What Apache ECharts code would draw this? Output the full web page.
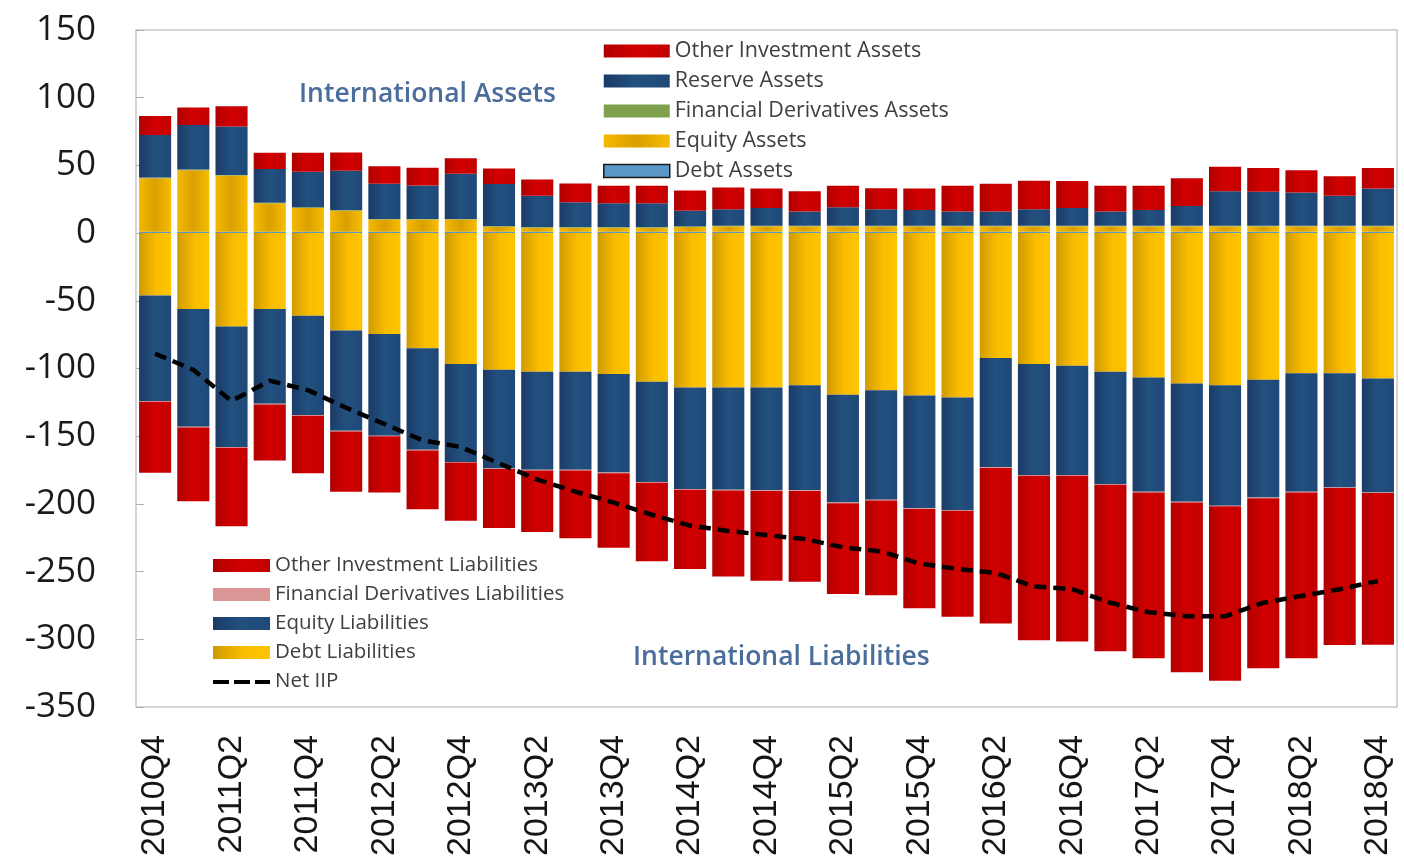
<!DOCTYPE html>
<html>
<head>
<meta charset="utf-8">
<script src="https://cdn.jsdelivr.net/npm/echarts@6/dist/echarts.min.js"></script>
<style>
html,body{margin:0;padding:0;background:#fff;}
#chart{width:1404px;height:867px;}
</style>
</head>
<body>
<div id="chart"></div>
<script>
const categories = ['2010Q4','2011Q1','2011Q2','2011Q3','2011Q4','2012Q1','2012Q2','2012Q3','2012Q4',
  '2013Q1','2013Q2','2013Q3','2013Q4','2014Q1','2014Q2','2014Q3','2014Q4','2015Q1','2015Q2','2015Q3','2015Q4',
  '2016Q1','2016Q2','2016Q3','2016Q4','2017Q1','2017Q2','2017Q3','2017Q4','2018Q1','2018Q2','2018Q3','2018Q4'];

const debtAssets = [1,1,1,1,1,1,1,1,1,1,1,1,1,1,1,1,1,1,1,1,1,1,1,1,1,1,1,1,1,1,1,1,1];
const equityAssets = [39.5,45.5,41.5,21,17.5,15.5,9,9,9,3.7,3,3,3,3,3.5,4,4,4,4,4,4,4,4,4,4,4,4,4,4,4,4,4,4];
const finDerivAssets = [0.5,0.5,0.5,0.5,0.5,0.5,0.5,0.5,0.5,0.5,0.5,0.5,0.5,0.5,0.5,0.5,0.5,0.5,0.5,0.5,0.5,0.5,0.5,0.5,0.5,0.5,0.5,0.5,0.5,0.5,0.5,0.5,0.5];
const reserveAssets = [31.5,32.8,35.7,24.9,26.3,29,25.9,24.7,33.3,31,23,18.2,17.5,17.5,11.5,12.2,13,10.5,13.5,12.2,11.5,10.5,10.5,12.2,13,10.5,11.5,14.5,25.5,25,24.5,22,27.5];
const otherInvAssets = [14,13,15,12,14,13.5,13,13,11.5,11.5,12,14,13,13,15,16,14.5,15,16,15.5,16,19,20.5,21,20,19,18,20.5,18,17.5,16.5,14.5,15];

const debtLiab = [-46,-56,-69,-56,-61,-72,-74.6,-85,-96.7,-101,-102.4,-102.4,-104,-109.8,-114,-114,-114,-112.3,-119.4,-116,-120,-121.4,-92.3,-96.7,-98,-102.4,-106.6,-111,-112.3,-108.3,-103.6,-103.6,-107.3];
const equityLiab = [-78,-87,-89,-70,-73.4,-74,-75,-75,-72.3,-72.8,-72.4,-72.4,-72.8,-74,-75,-75.6,-76,-77.7,-79.6,-81,-83.3,-83.2,-80.7,-82,-80.7,-83,-84.4,-87.4,-89,-87,-87.4,-84.2,-84.2];
const finDerivLiab = [-0.5,-0.5,-0.5,-0.5,-0.5,-0.5,-0.5,-0.5,-0.5,-0.5,-0.5,-0.5,-0.5,-0.5,-0.5,-0.5,-0.5,-0.5,-0.5,-0.5,-0.5,-0.5,-0.5,-0.5,-0.5,-0.5,-0.5,-0.5,-0.5,-0.5,-0.5,-0.5,-0.5];
const otherInvLiab = [-52.5,-54.5,-58,-41.5,-42.5,-44.5,-41.5,-43.5,-43,-43.5,-45.5,-50,-55,-58,-58.5,-63.5,-66.3,-67,-67,-70,-73.2,-78.3,-114.8,-121.5,-122.5,-123,-122.5,-125.5,-128.8,-125.5,-122.5,-116,-112];

const netIIP = [-89,-101,-124,-109,-116,-129,-141,-153,-158,-170,-182,-191,-199,-208,-216,-220,-223,-226,-232,-235,-244,-248,-251,-261,-263,-273,-280,-283,-283,-273,-268,-263,-257];

const G = echarts.graphic.LinearGradient;
const red = new G(0,0,1,0,[{offset:0,color:'#b00000'},{offset:0.5,color:'#d20000'},{offset:1,color:'#c20000'}]);
const blue = new G(0,0,1,0,[{offset:0,color:'#1b3b68'},{offset:0.5,color:'#22517f'},{offset:1,color:'#1f4878'}]);
const yellow = new G(0,0,1,0,[{offset:0,color:'#cf9a00'},{offset:0.55,color:'#fbbd00'},{offset:1,color:'#ffc400'}]);
const yellowA = new G(0,0,1,0,[{offset:0,color:'#f5b800'},{offset:0.5,color:'#d9a000'},{offset:1,color:'#f8bc00'}]);

const dashIcon = 'path://M0,0h0.01v0.01h-0.01z M0,5h16v4h-16z M21,5h16v4h-16z M42,5h15v4h-15z M56.99,13h0.01v0.01h-0.01z';

function bar(name, data, color) {
  return {
    name: name, type: 'bar', stack: 'total', data: data,
    barCategoryGap: '16%',
    itemStyle: { color: color },
    emphasis: { disabled: true }
  };
}

const chart = echarts.init(document.getElementById('chart'));
chart.setOption({
  animation: false,
  grid: { left: 136, right: 7, top: 30, bottom: 160, show: true, borderColor: '#c8c8c8', borderWidth: 1.5 },
  legend: [
    {
      orient: 'vertical', left: 598, top: 35, itemWidth: 66, itemHeight: 13, itemGap: 8,
      textStyle: { fontSize: 21.5, lineHeight: 20, color: '#404040', fontFamily: 'Open Sans' },
      data: [
        { name: 'Other Investment Assets', icon: 'rect' },
        { name: 'Reserve Assets', icon: 'rect' },
        { name: 'Financial Derivatives Assets', icon: 'rect' },
        { name: 'Equity Assets', icon: 'rect' },
        { name: 'Debt Assets', icon: 'rect', itemStyle: { color: '#5b97c6', borderColor: '#1a1a1a', borderWidth: 1.5 } }
      ]
    },
    {
      orient: 'vertical', left: 208, top: 550, itemWidth: 57, itemHeight: 13, itemGap: 8,
      textStyle: { fontSize: 20.5, lineHeight: 19, color: '#404040', fontFamily: 'Open Sans' },
      data: [
        { name: 'Other Investment Liabilities', icon: 'rect' },
        { name: 'Financial Derivatives Liabilities', icon: 'rect' },
        { name: 'Equity Liabilities', icon: 'rect' },
        { name: 'Debt Liabilities', icon: 'rect' },
        { name: 'Net IIP', icon: dashIcon, itemStyle: { color: '#000' } }
      ]
    }
  ],
  xAxis: {
    type: 'category', data: categories,
    axisLine: { show: false, onZero: false },
    axisTick: { show: false },
    axisLabel: { interval: 1, rotate: 90, fontSize: 34, color: '#151515', fontFamily: 'Liberation Sans', margin: 28 }
  },
  yAxis: {
    type: 'value', min: -350, max: 150, interval: 50,
    splitLine: { show: false },
    axisLine: { show: false },
    axisTick: { show: true, inside: true, length: 8, lineStyle: { color: '#b0b0b0' } },
    axisLabel: { fontSize: 35, color: '#1a1a1a', fontFamily: 'Open Sans', margin: 40 }
  },
  graphic: [
    { type: 'text', left: 299, top: 81, style: { text: 'International Assets', fontSize: 26.5, fontWeight: 600, fill: '#4a6d9c', fontFamily: 'Open Sans' } },
    { type: 'text', left: 633, top: 644, style: { text: 'International Liabilities', fontSize: 26.5, fontWeight: 600, fill: '#4a6d9c', fontFamily: 'Open Sans' } }
  ],
  series: [
    bar('Debt Assets', debtAssets, '#5b97c6'),
    bar('Equity Assets', equityAssets, yellowA),
    bar('Financial Derivatives Assets', finDerivAssets, '#7fa04c'),
    bar('Reserve Assets', reserveAssets, blue),
    bar('Other Investment Assets', otherInvAssets, red),
    bar('Debt Liabilities', debtLiab, yellow),
    bar('Equity Liabilities', equityLiab, blue),
    bar('Financial Derivatives Liabilities', finDerivLiab, '#d99694'),
    bar('Other Investment Liabilities', otherInvLiab, red),
    {
      name: 'Net IIP', type: 'line', data: netIIP, symbol: 'none', showSymbol: false, z: 10,
      lineStyle: { color: '#000', width: 4.5, type: [12, 7] },
      itemStyle: { color: '#000' },
      emphasis: { disabled: true }
    }
  ]
});
</script>
</body>
</html>
